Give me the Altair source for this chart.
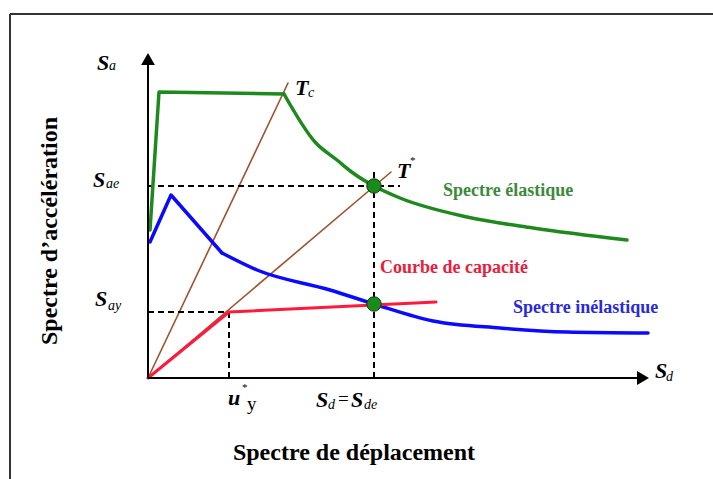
import altair as alt
import pandas as pd

# ---- capacity-spectrum diagram (N2 method), values in drawing units ----
# Elastic acceleration-displacement spectrum: straight rise and plateau ...
elastic_sd = [2, 11, 136]
elastic_sa = [148, 286, 284]
# ... then the descending branch beyond Tc
elastic_tail_sd = [136, 167, 189, 205, 226, 252, 319, 385, 479]
elastic_tail_sa = [284, 236, 218, 205, 192, 180, 161, 150, 138]

# Inelastic spectrum: peak, then smooth decay
inelastic_sd = [2, 23, 74]
inelastic_sa = [136, 183, 125]
inelastic_tail_sd = [74, 109, 182, 226, 285, 352, 419, 500]
inelastic_tail_sa = [125, 108, 88, 74, 57, 50, 46, 45]

# Bilinear capacity curve
capacity_sd = [0, 81, 288]
capacity_sa = [0, 66, 76]

# Period lines through the origin (Tc and T*)
tc_sd, tc_sa = [0, 140], [0, 295]
tstar_sd, tstar_sa = [0, 243], [0, 206]

# Characteristic values
sae, say = 192, 66
sde, uy = 226, 81

# Labels: main glyphs and subscripts (left, baseline)
main_txt = ["S", "S", "S", "T", "T", "S", "u", "S", "S"]
main_x = [-51, -55, -53, 147, 249, 507, 80, 168, 203]
main_y = [308, 191, 72, 283, 200, 0, -27, -29, -29]

sub_txt = ["a", "ae", "ay", "c", "d", "d", "de"]
sub_x = [-39, -42, -40, 160, 518, 180, 216]
sub_y = [308, 190, 68, 281, -3, -31, -31]

star_x = [262, 94]
star_y = [214, -13]

series_txt = ["Spectre élastique", "Courbe de capacité", "Spectre inélastique"]
series_x = [295, 232, 365]
series_y = [182, 105, 65]
series_col = ["#3a8a3a", "#e8203c", "#2a2ad8"]

SERIF = "Liberation Serif"
X_DOMAIN = [-148, 565]
Y_DOMAIN = [-101, 378]

xsc = alt.Scale(domain=X_DOMAIN, nice=False, zero=False)
ysc = alt.Scale(domain=Y_DOMAIN, nice=False, zero=False)


def X(f="sd"):
    return alt.X(f"{f}:Q", scale=xsc, axis=None)


def Y(f="sa"):
    return alt.Y(f"{f}:Q", scale=ysc, axis=None)


def curve(sd, sa, color, width, interpolate="linear"):
    df = pd.DataFrame({"sd": sd, "sa": sa, "i": list(range(len(sd)))})
    return alt.Chart(df).mark_line(
        color=color, strokeWidth=width, strokeJoin="round", strokeCap="round",
        interpolate=interpolate,
    ).encode(x=X(), y=Y(), order="i:Q")


def segments(rows, **kw):
    df = pd.DataFrame(rows, columns=["sd", "sa", "sd2", "sa2"])
    return alt.Chart(df).mark_rule(**kw).encode(
        x=X(), y=Y(), x2="sd2:Q", y2="sa2:Q"
    )


# frame around the figure
one = alt.Data(values=[{}])
frame_top = alt.Chart(one).mark_rule(color="#333333", strokeWidth=2).encode(
    x=alt.value(10), x2=alt.value(713), y=alt.value(14))
frame_left = alt.Chart(one).mark_rule(color="#333333", strokeWidth=2).encode(
    x=alt.value(10), y=alt.value(14), y2=alt.value(479))

# axes with arrowheads
axes = segments([[0, 0, 0, 318], [0, 0, 494, 0]], color="black", strokeWidth=2)
heads = alt.Chart(pd.DataFrame({
    "sd": [0, 495], "sa": [319, 0], "shape": ["triangle-up", "triangle-right"]
})).mark_point(filled=True, color="black", opacity=1, size=190).encode(
    x=X(), y=Y(), shape=alt.Shape("shape:N", scale=None, legend=None))

# dashed projection lines
dashes = segments(
    [[0, sae, 252, sae], [sde, 0, sde, 208], [0, say, uy, say], [uy, 0, uy, say]],
    color="black", strokeWidth=2, strokeDash=[6, 4])

green, blue = "#1e8a1e", "#0a0aff"
elastic = curve(elastic_sd, elastic_sa, green, 3.5)
elastic_tail = curve(elastic_tail_sd, elastic_tail_sa, green, 3.5, "monotone")
inelastic = curve(inelastic_sd, inelastic_sa, blue, 3.5)
inelastic_tail = curve(inelastic_tail_sd, inelastic_tail_sa, blue, 3.5, "monotone")
capacity = curve(capacity_sd, capacity_sa, "#ff1a3c", 3)
tc_line = curve(tc_sd, tc_sa, "#a0522d", 1.6)
tstar_line = curve(tstar_sd, tstar_sa, "#a0522d", 1.6)

points = alt.Chart(pd.DataFrame({"sd": [sde, sde], "sa": [sae, 74]})).mark_point(
    filled=True, shape="circle", size=210, color="#1a8a1a", opacity=1,
    stroke="#0b3d0b", strokeWidth=1).encode(x=X(), y=Y())

main_lbl = alt.Chart(pd.DataFrame({"sd": main_x, "sa": main_y, "t": main_txt})).mark_text(
    align="left", baseline="alphabetic", font=SERIF, fontSize=22,
    fontStyle="italic", fontWeight="bold", color="black").encode(x=X(), y=Y(), text="t:N")
sub_lbl = alt.Chart(pd.DataFrame({"sd": sub_x, "sa": sub_y, "t": sub_txt})).mark_text(
    align="left", baseline="alphabetic", font=SERIF, fontSize=14,
    fontStyle="italic", color="black").encode(x=X(), y=Y(), text="t:N")
eq_lbl = alt.Chart(pd.DataFrame({"sd": [190, 99], "sa": [-27, -32], "t": ["=", "y"]})).mark_text(
    align="left", baseline="alphabetic", font=SERIF, fontSize=19,
    color="black").encode(x=X(), y=Y(), text="t:N")
star_lbl = alt.Chart(pd.DataFrame({"sd": star_x, "sa": star_y, "t": ["*", "*"]})).mark_text(
    align="left", baseline="alphabetic", font=SERIF, fontSize=11,
    color="black").encode(x=X(), y=Y(), text="t:N")

series_lbl = alt.Chart(pd.DataFrame({
    "sd": series_x, "sa": series_y, "t": series_txt, "c": series_col
})).mark_text(align="left", baseline="alphabetic", font=SERIF, fontSize=18,
              fontWeight="bold").encode(
    x=X(), y=Y(), text="t:N", color=alt.Color("c:N", scale=None, legend=None))

titles = alt.Chart(pd.DataFrame({
    "sd": [-98, 206], "sa": [147, -75], "t": ["Spectre d’accélération", "Spectre de déplacement"],
    "a": [270, 0]
})).mark_text(align="center", baseline="middle", font=SERIF, fontSize=24,
              fontWeight="bold", color="black").encode(
    x=X(), y=Y(), text="t:N", angle=alt.Angle("a:Q", scale=None))

chart = alt.layer(
    frame_top, frame_left, tc_line, tstar_line, dashes,
    elastic, elastic_tail, inelastic, inelastic_tail, capacity,
    axes, heads, points, main_lbl, sub_lbl, eq_lbl, star_lbl, series_lbl, titles
).properties(
    width=713, height=479, padding=0,
    autosize=alt.AutoSizeParams(type="none"),
    background="white",
).configure_view(stroke=None)

chart.save("out.html", embed_options={"renderer": "svg", "actions": False})
